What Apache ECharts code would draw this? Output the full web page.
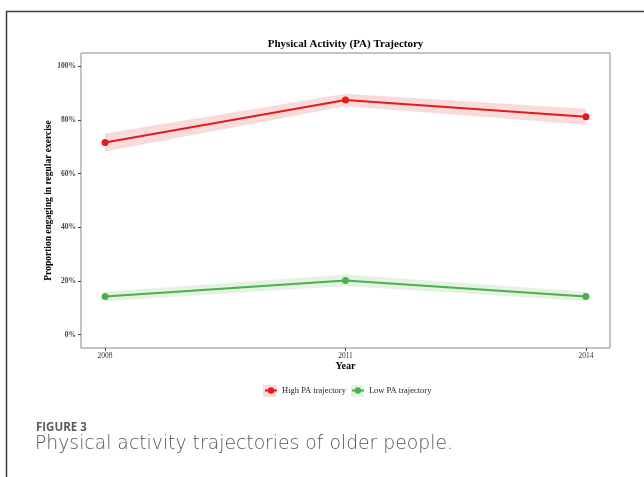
<!DOCTYPE html>
<html>
<head>
<meta charset="utf-8">
<script src="https://cdn.jsdelivr.net/npm/echarts@6/dist/echarts.min.js"></script>
<style>
  html, body { margin: 0; padding: 0; background: #fff; }
  #chart { width: 644px; height: 477px; }
</style>
</head>
<body>
<div id="chart"></div>
<script>
// Survey waves and trajectory estimates (percent engaging in regular exercise)
const years = [2008, 2011, 2014];
const highPA = [71.6, 87.5, 81.2];
const highLower = [68.3, 85.1, 78.2];
const highUpper = [75.0, 89.8, 84.2];
const lowPA = [14.2, 20.2, 14.2];
const lowLower = [12.4, 18.1, 12.5];
const lowUpper = [16.0, 22.4, 16.0];
const yTicks = [0, 20, 40, 60, 80, 100];
const seriesNames = ['High PA trajectory', 'Low PA trajectory'];

const SERIF = '"Liberation Serif", "Times New Roman", serif';
const RED = '#e41a1c', GREEN = '#4daf4a';
const RED_BAND = '#fadbdc', GREEN_BAND = '#e3f2e2';

// Confidence band drawn as one polygon through the axis scales
function bandRenderer(lower, upper, fill) {
  return function (params, api) {
    if (params.dataIndex !== 0) return null;
    const top = years.map((x, i) => api.coord([x, upper[i]]));
    const bottom = years.map((x, i) => api.coord([x, lower[i]])).reverse();
    return {
      type: 'polygon',
      shape: { points: top.concat(bottom) },
      style: { fill: fill }
    };
  };
}

const chart = echarts.init(document.getElementById('chart'), null, { renderer: 'canvas' });

chart.setOption({
  animation: false,
  backgroundColor: '#fff',
  title: {
    text: 'Physical Activity (PA) Trajectory',
    left: 345.5,
    top: 38.5,
    textAlign: 'center',
    padding: 0,
    textStyle: { fontFamily: SERIF, fontWeight: 'bold', fontSize: 11, color: '#000' }
  },
  grid: {
    left: 81, top: 53, right: 34, bottom: 129,
    show: true, borderColor: '#8a8a8a', borderWidth: 1, backgroundColor: 'transparent'
  },
  legend: {
    data: seriesNames,
    left: 264,
    top: 386,
    padding: 0,
    itemWidth: 12,
    itemHeight: 8,
    itemGap: 5,
    textStyle: { fontFamily: SERIF, fontSize: 8.5, color: '#222' }
  },
  xAxis: {
    type: 'value',
    min: 2007.7,
    max: 2014.3,
    name: 'Year',
    nameLocation: 'middle',
    nameGap: 13,
    nameMoveOverlap: false,
    nameTextStyle: { fontFamily: SERIF, fontWeight: 'bold', fontSize: 10, color: '#000', verticalAlign: 'top' },
    axisLine: { show: false, onZero: false },
    splitLine: { show: false },
    axisTick: { show: true, length: 3, lineStyle: { color: '#444' }, customValues: years },
    axisLabel: {
      customValues: years,
      margin: 4,
      fontFamily: SERIF, fontSize: 7.5, color: '#333',
      formatter: v => String(v)
    }
  },
  yAxis: {
    type: 'value',
    min: -5,
    max: 105,
    name: 'Proportion engaging in regular exercise',
    nameLocation: 'middle',
    nameGap: 27,
    nameMoveOverlap: false,
    nameTextStyle: { fontFamily: SERIF, fontWeight: 'bold', fontSize: 9.5, color: '#000' },
    axisLine: { show: false, onZero: false },
    splitLine: { show: false },
    axisTick: { show: true, length: 3, lineStyle: { color: '#444' }, customValues: yTicks },
    axisLabel: {
      customValues: yTicks,
      margin: 5,
      fontFamily: SERIF, fontSize: 7.5, fontWeight: 'bold', color: '#444',
      formatter: v => v + '%'
    }
  },
  graphic: [
    // page frame
    { type: 'rect', z: 0, shape: { x: 6.5, y: 11.5, width: 700, height: 600 },
      style: { fill: 'none', stroke: '#3c3c3c', lineWidth: 1.5 } },
    // legend key backgrounds
    { type: 'rect', z: 0, shape: { x: 263, y: 385, width: 13, height: 12 }, style: { fill: RED_BAND } },
    { type: 'rect', z: 0, shape: { x: 351, y: 385, width: 13, height: 12 }, style: { fill: GREEN_BAND } },
    // figure caption
    { type: 'text', left: 36, top: 422,
      style: { text: 'FIGURE 3', fontFamily: '"Open Sans", sans-serif', fontWeight: 'bold', fontSize: 11.5, fill: '#5a5a5a' } },
    { type: 'text', left: 35, top: 435,
      style: { text: 'Physical activity trajectories of older people.', fontFamily: '"DejaVu Sans", sans-serif', fontWeight: 200, fontSize: 18.8, fill: '#555' } }
  ],
  series: [
    {
      type: 'custom',
      name: 'highBand',
      renderItem: bandRenderer(highLower, highUpper, RED_BAND),
      data: years.map((x, i) => [x, highLower[i], highUpper[i]]),
      encode: { x: 0, y: [1, 2] },
      silent: true, z: 1
    },
    {
      type: 'custom',
      name: 'lowBand',
      renderItem: bandRenderer(lowLower, lowUpper, GREEN_BAND),
      data: years.map((x, i) => [x, lowLower[i], lowUpper[i]]),
      encode: { x: 0, y: [1, 2] },
      silent: true, z: 1
    },
    {
      type: 'line',
      name: seriesNames[0],
      data: years.map((x, i) => [x, highPA[i]]),
      symbol: 'circle', symbolSize: 7,
      lineStyle: { color: RED, width: 2 },
      itemStyle: { color: RED },
      z: 3
    },
    {
      type: 'line',
      name: seriesNames[1],
      data: years.map((x, i) => [x, lowPA[i]]),
      symbol: 'circle', symbolSize: 7,
      lineStyle: { color: GREEN, width: 2 },
      itemStyle: { color: GREEN },
      z: 3
    }
  ]
});
</script>
</body>
</html>
